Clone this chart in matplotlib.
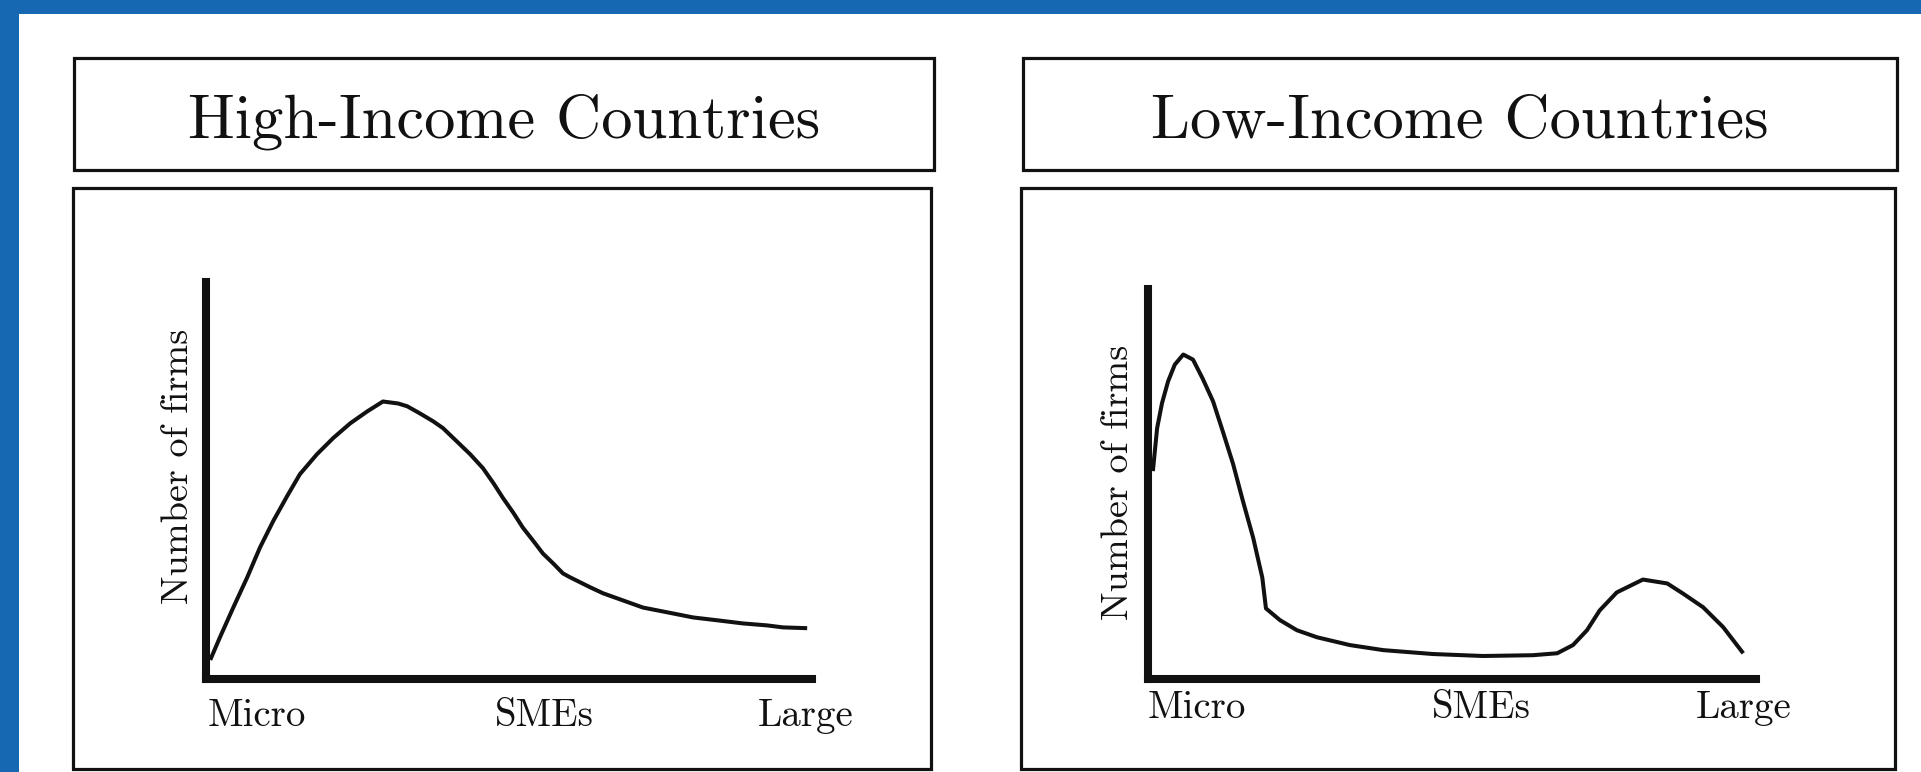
import matplotlib
matplotlib.use("Agg")
import matplotlib.pyplot as plt
from matplotlib.patches import Rectangle

# ---------------- data ----------------
size_labels = ["Micro", "SMEs", "Large"]
high_label_pos = [0.084, 0.558, 0.990]
low_label_pos = [0.081, 0.549, 0.979]

panel_titles = ["High-Income Countries", "Low-Income Countries"]
y_title = "Number of firms"

# High-income: firm size (0 = micro, 1 = large) vs number of firms (relative)
high_x = [0.007, 0.023, 0.045, 0.068, 0.089, 0.111, 0.134, 0.155, 0.183, 0.210,
          0.238, 0.266, 0.292, 0.317, 0.332, 0.353, 0.375, 0.391, 0.419, 0.436,
          0.457, 0.474, 0.490, 0.507, 0.523, 0.540, 0.556, 0.573, 0.589, 0.601,
          0.634, 0.655, 0.688, 0.721, 0.761, 0.804, 0.843, 0.886, 0.926, 0.952,
          0.992]
high_y = [0.048, 0.105, 0.180, 0.256, 0.331, 0.398, 0.461, 0.516, 0.566, 0.607,
          0.644, 0.674, 0.699, 0.694, 0.687, 0.669, 0.649, 0.632, 0.591, 0.566,
          0.531, 0.494, 0.456, 0.419, 0.381, 0.348, 0.316, 0.291, 0.266, 0.256,
          0.231, 0.216, 0.198, 0.180, 0.168, 0.155, 0.148, 0.140, 0.135, 0.130,
          0.128]

# Low-income: "missing middle" distribution
low_x = [0.008, 0.015, 0.023, 0.033, 0.044, 0.058, 0.074, 0.090, 0.107, 0.123,
         0.140, 0.156, 0.173, 0.188, 0.194, 0.217, 0.245, 0.278, 0.332, 0.387,
         0.469, 0.551, 0.633, 0.673, 0.699, 0.722, 0.743, 0.771, 0.814, 0.854,
         0.880, 0.913, 0.946, 0.979]
low_y = [0.533, 0.643, 0.707, 0.763, 0.806, 0.832, 0.819, 0.770, 0.712, 0.635,
         0.551, 0.457, 0.362, 0.260, 0.181, 0.151, 0.125, 0.107, 0.087, 0.074,
         0.064, 0.059, 0.061, 0.066, 0.087, 0.125, 0.176, 0.222, 0.255, 0.245,
         0.219, 0.184, 0.133, 0.066]

# ---------------- figure ----------------
W, H = 1921, 772
plt.rcParams["font.family"] = ["cmr10", "DejaVu Serif"]
fig = plt.figure(figsize=(W / 100, H / 100), dpi=100)
fig.patch.set_facecolor("white")

def px_rect(x0, y0, x1, y1, **kw):
    # pixel coords with origin top-left
    r = Rectangle((x0 / W, 1 - y1 / H), (x1 - x0) / W, (y1 - y0) / H,
                  transform=fig.transFigure, **kw)
    fig.add_artist(r)
    return r

blue = "#1668b3"
# blue frame on the top and left edges
px_rect(0, 0, W, 14, facecolor=blue, edgecolor="none", zorder=0)
px_rect(0, 0, 19, H, facecolor=blue, edgecolor="none", zorder=0)

ink = "#111111"
# title boxes and panel boxes
px_rect(74, 58, 934, 170, facecolor="none", edgecolor=ink, lw=2.3, zorder=1)
px_rect(73, 188, 931, 769, facecolor="none", edgecolor=ink, lw=2.3, zorder=1)
px_rect(1023, 58, 1897, 170, facecolor="none", edgecolor=ink, lw=2.3, zorder=1)
px_rect(1021, 188, 1895, 769, facecolor="none", edgecolor=ink, lw=2.3, zorder=1)

fig.text(504 / W, 1 - 138 / H, panel_titles[0], ha="center", va="baseline",
         fontsize=45, color=ink)
fig.text(1460 / W, 1 - 138 / H, panel_titles[1], ha="center", va="baseline",
         fontsize=45, color=ink)

def make_axes(x0, y_top, x1, y_bot):
    ax = fig.add_axes([x0 / W, 1 - y_bot / H, (x1 - x0) / W, (y_bot - y_top) / H])
    ax.set_facecolor("none")
    for s in ["top", "right"]:
        ax.spines[s].set_visible(False)
    for s in ["left", "bottom"]:
        ax.spines[s].set_linewidth(5.8)
        ax.spines[s].set_color(ink)
        ax.spines[s].set_capstyle("projecting")
    ax.set_xlim(0, 1)
    ax.set_ylim(0, 1)
    ax.set_yticks([])
    ax.tick_params(axis="x", length=0, pad=14, labelsize=28, labelcolor=ink)
    return ax

ax1 = make_axes(206, 282, 812, 679)
ax1.plot(high_x, high_y, color=ink, lw=2.9, solid_capstyle="butt",
         solid_joinstyle="round", clip_on=False)
ax1.set_xticks(high_label_pos, size_labels)
ax1.text(-0.018, 0.536, y_title, rotation=90, ha="right", va="center",
         fontsize=27.5, color=ink, transform=ax1.transAxes)

ax2 = make_axes(1148, 289, 1756, 679)
ax2.plot(low_x, low_y, color=ink, lw=2.9, solid_capstyle="butt",
         solid_joinstyle="round", clip_on=False)
ax2.set_xticks(low_label_pos, size_labels)
ax2.tick_params(axis="x", pad=8)
ax2.text(-0.021, 0.503, y_title, rotation=90, ha="right", va="center",
         fontsize=27.5, color=ink, transform=ax2.transAxes)

fig.savefig("out.png", dpi=100, facecolor=fig.get_facecolor())
